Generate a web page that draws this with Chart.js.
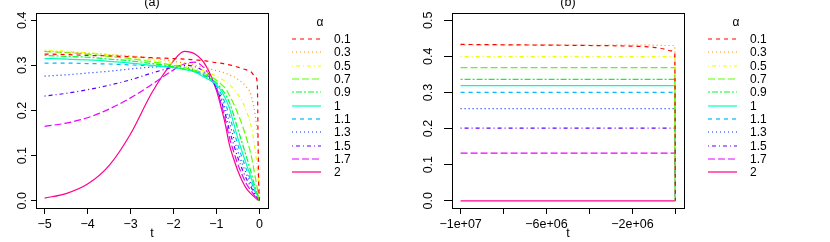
<!DOCTYPE html>
<html>
<head>
<meta charset="utf-8">
<script src="https://cdn.jsdelivr.net/npm/chart.js@4.4.0/dist/chart.umd.min.js"></script>
<style>
  html, body { margin: 0; padding: 0; background: #fff; }
  .wrap { display: flex; width: 830px; height: 242px; }
  canvas { display: block; }
</style>
</head>
<body>
<div class="wrap">
  <canvas id="chartA" width="415" height="242"></canvas>
  <canvas id="chartB" width="415" height="242"></canvas>
</div>
<script>
const alphas = ['0.1', '0.3', '0.5', '0.7', '0.9', '1', '1.1', '1.3', '1.5', '1.7', '2'];

// panel (a): t from -5 to 0
const tA = [-5, -4.5, -4, -3.5, -3, -2.5, -2, -1.75, -1.5, -1.25, -1, -0.9, -0.8, -0.7, -0.6, -0.5, -0.4, -0.3, -0.2, -0.1, -0.05, -0.02, 0];
const fA_01 = [0.325, 0.324, 0.322, 0.321, 0.319, 0.317, 0.315, 0.314, 0.312, 0.310, 0.306, 0.305, 0.303, 0.301, 0.299, 0.296, 0.293, 0.290, 0.286, 0.276, 0.262, 0.05, 0];
const fA_03 = [0.331, 0.329, 0.327, 0.324, 0.321, 0.316, 0.309, 0.305, 0.300, 0.295, 0.288, 0.286, 0.283, 0.279, 0.275, 0.269, 0.262, 0.252, 0.236, 0.19, 0.15, 0.10, 0];
const fA_05 = [0.334, 0.331, 0.328, 0.324, 0.319, 0.312, 0.304, 0.299, 0.293, 0.286, 0.276, 0.271, 0.265, 0.257, 0.248, 0.235, 0.22, 0.198, 0.168, 0.115, 0.07, 0.035, 0];
const fA_07 = [0.331, 0.328, 0.325, 0.320, 0.315, 0.308, 0.300, 0.295, 0.289, 0.281, 0.267, 0.259, 0.25, 0.234, 0.215, 0.193, 0.168, 0.138, 0.104, 0.054, 0.028, 0.012, 0];
const fA_09 = [0.322, 0.320, 0.318, 0.314, 0.310, 0.304, 0.297, 0.292, 0.287, 0.277, 0.261, 0.25, 0.237, 0.218, 0.19, 0.158, 0.128, 0.097, 0.065, 0.03, 0.016, 0.008, 0];
const fA_1 = [0.315, 0.314, 0.312, 0.309, 0.305, 0.300, 0.295, 0.291, 0.285, 0.272, 0.258, 0.245, 0.228, 0.206, 0.172, 0.138, 0.108, 0.08, 0.053, 0.023, 0.012, 0.007, 0];
const fA_11 = [0.305, 0.305, 0.304, 0.303, 0.301, 0.299, 0.296, 0.292, 0.287, 0.274, 0.254, 0.238, 0.217, 0.19, 0.156, 0.124, 0.095, 0.069, 0.045, 0.02, 0.01, 0.006, 0];
const fA_13 = [0.276, 0.279, 0.283, 0.287, 0.292, 0.296, 0.298, 0.296, 0.290, 0.277, 0.252, 0.231, 0.206, 0.174, 0.14, 0.109, 0.082, 0.059, 0.038, 0.017, 0.008, 0.005, 0];
const fA_15 = [0.232, 0.238, 0.246, 0.256, 0.268, 0.283, 0.296, 0.300, 0.297, 0.283, 0.25, 0.224, 0.194, 0.157, 0.125, 0.095, 0.07, 0.048, 0.031, 0.013, 0.0065, 0.004, 0];
const fA_17 = [0.165, 0.172, 0.184, 0.203, 0.228, 0.258, 0.29, 0.303, 0.307, 0.29, 0.248, 0.217, 0.183, 0.141, 0.109, 0.08, 0.057, 0.037, 0.023, 0.01, 0.005, 0.003, 0];
const fA_2 = [0.006, 0.016, 0.037, 0.078, 0.148, 0.24, 0.31, 0.331, 0.325, 0.30, 0.245, 0.21, 0.172, 0.125, 0.093, 0.066, 0.044, 0.027, 0.016, 0.007, 0.003, 0.001, 0];

// panel (b): t from -1e7 to 0
const tB = [-1e7, -8e6, -6e6, -4e6, -2e6, -1e6, -5e5, -2e5, -3e4, 0];
const fB_01 = [0.433, 0.432, 0.431, 0.430, 0.428, 0.425, 0.420, 0.415, 0.409, 0];
const fB_03 = [0.432, 0.432, 0.432, 0.431, 0.431, 0.431, 0.430, 0.430, 0.429, 0];
const fB_05 = [0.399, 0.399, 0.399, 0.399, 0.399, 0.399, 0.399, 0.399, 0.399, 0];
const fB_07 = [0.369, 0.369, 0.369, 0.369, 0.369, 0.369, 0.369, 0.369, 0.369, 0];
const fB_09 = [0.336, 0.336, 0.336, 0.336, 0.336, 0.336, 0.336, 0.336, 0.336, 0];
const fB_1 = [0.319, 0.319, 0.319, 0.319, 0.319, 0.319, 0.319, 0.319, 0.319, 0];
const fB_11 = [0.300, 0.300, 0.300, 0.300, 0.300, 0.300, 0.300, 0.300, 0.300, 0];
const fB_13 = [0.255, 0.255, 0.255, 0.255, 0.255, 0.255, 0.255, 0.255, 0.255, 0];
const fB_15 = [0.201, 0.201, 0.201, 0.201, 0.201, 0.201, 0.201, 0.201, 0.201, 0];
const fB_17 = [0.132, 0.132, 0.132, 0.132, 0.132, 0.132, 0.132, 0.132, 0.132, 0];
const fB_2 = [0, 0, 0, 0, 0, 0, 0, 0, 0, 0];

const xTicksA = [-5, -4, -3, -2, -1, 0];
const xLabelsA = ['\u22125', '\u22124', '\u22123', '\u22122', '\u22121', '0'];
const yTicksA = [0, 0.1, 0.2, 0.3, 0.4];
const xTicksB = [-1e7, -8e6, -6e6, -4e6, -2e6, 0];
const xLabelsB = ['\u22121e+07', '', '\u22126e+06', '', '\u22122e+06', ''];
const yTicksB = [0, 0.1, 0.2, 0.3, 0.4, 0.5];

// R rainbow(11) and lty 2,3,4,5,6,1,2,3,4,5,1
const colors = ['#FF0000', '#FF8B00', '#E8FF00', '#5DFF00', '#00FF2E', '#00FFB9', '#00B9FF', '#002EFF', '#5D00FF', '#E800FF', '#FF008B'];
const dashes = [[4, 4], [1, 3], [1, 3, 4, 3], [7, 3], [2, 2, 6, 2], [], [4, 4], [1, 3], [1, 3, 4, 3], [7, 3], []];

const FONT = '"Liberation Sans", Arial, Helvetica, sans-serif';
Chart.defaults.font.family = FONT;
Chart.defaults.color = '#000';

const rFrame = {
  id: 'rFrame',
  afterDraw(chart, args, opts) {
    const { ctx, chartArea: a, scales } = chart;
    ctx.save();
    // box round the plot
    ctx.strokeStyle = '#000';
    ctx.lineWidth = 1;
    ctx.strokeRect(Math.round(a.left) + 0.5, Math.round(a.top) + 0.5,
      Math.round(a.right - a.left), Math.round(a.bottom - a.top));

    // y tick labels, rotated like R
    ctx.fillStyle = '#000';
    ctx.font = `12.5px ${FONT}`;
    ctx.textAlign = 'center';
    ctx.textBaseline = 'middle';
    scales.y.ticks.forEach(tk => {
      const y = scales.y.getPixelForValue(tk.value);
      ctx.save();
      ctx.translate(a.left - opts.yLabelGap, y);
      ctx.rotate(-Math.PI / 2);
      ctx.fillText(tk.value.toFixed(1), 0, 0);
      ctx.restore();
    });

    // panel title
    ctx.textBaseline = 'alphabetic';
    ctx.fillText(opts.title, (a.left + a.right) / 2, 6);

    // legend
    const lx = a.right + 24;
    ctx.font = `12px ${FONT}`;
    ctx.fillText('\u03b1', lx + 28, 26);
    ctx.textAlign = 'left';
    ctx.textBaseline = 'middle';
    chart.data.datasets.forEach((ds, i) => {
      const y = Math.round(39 + i * 13.33);
      ctx.strokeStyle = ds.borderColor;
      ctx.lineWidth = 1.2;
      ctx.setLineDash(ds.borderDash);
      ctx.beginPath();
      ctx.moveTo(lx, y);
      ctx.lineTo(lx + 29, y);
      ctx.stroke();
      ctx.setLineDash([]);
      ctx.fillStyle = '#000';
      ctx.fillText(ds.label, lx + 42, y + 0.5);
    });
    ctx.restore();
  }
};

function makeChart(id, xs, series, cfg) {
  const datasets = series.map((vals, i) => ({
    label: alphas[i],
    data: xs.map((x, j) => ({ x: x, y: vals[j] })),
    borderColor: colors[i],
    borderDash: dashes[i],
    borderWidth: 1.2,
    pointRadius: 0,
    cubicInterpolationMode: 'monotone',
    fill: false
  }));

  return new Chart(document.getElementById(id), {
    type: 'line',
    data: { datasets },
    plugins: [rFrame],
    options: {
      responsive: false,
      animation: false,
      devicePixelRatio: 1,
      layout: { padding: { top: 13, right: cfg.padRight, bottom: 0, left: 0 } },
      plugins: {
        legend: { display: false },
        tooltip: { enabled: false },
        rFrame: { title: cfg.title, yLabelGap: cfg.yLabelGap }
      },
      scales: {
        x: {
          type: 'linear',
          min: cfg.xMin,
          max: cfg.xMax,
          afterBuildTicks: s => { s.ticks = cfg.xTicks.map(v => ({ value: v })); },
          afterFit: s => { s.height = 34; },
          ticks: {
            autoSkip: false,
            maxRotation: 0,
            padding: 3,
            color: '#000',
            font: { size: 12.5 },
            callback: (v, i) => cfg.xLabels[i]
          },
          grid: { drawOnChartArea: false, drawTicks: true, tickLength: 6, color: '#000' },
          border: { display: false },
          title: { display: true, text: 't', color: '#000', font: { size: 12.5 }, padding: { top: 0, bottom: 1 } }
        },
        y: {
          type: 'linear',
          min: cfg.yMin,
          max: cfg.yMax,
          afterBuildTicks: s => { s.ticks = cfg.yTicks.map(v => ({ value: v })); },
          afterFit: s => { s.width = cfg.yWidth; },
          ticks: { display: false },
          grid: { drawOnChartArea: false, drawTicks: true, tickLength: cfg.yTick, color: '#000' },
          border: { display: false }
        }
      }
    }
  });
}

makeChart('chartA', tA,
  [fA_01, fA_03, fA_05, fA_07, fA_09, fA_1, fA_11, fA_13, fA_15, fA_17, fA_2], {
    title: '(a)', padRight: 147, yWidth: 36, yTick: 5, yLabelGap: 13.5,
    xMin: -5.2, xMax: 0.2, yMin: -0.016, yMax: 0.416,
    xTicks: xTicksA, xLabels: xLabelsA, yTicks: yTicksA
  });

makeChart('chartB', tB,
  [fB_01, fB_03, fB_05, fB_07, fB_09, fB_1, fB_11, fB_13, fB_15, fB_17, fB_2], {
    title: '(b)', padRight: 146, yWidth: 37, yTick: 8, yLabelGap: 23,
    xMin: -1.04e7, xMax: 4e5, yMin: -0.02, yMax: 0.52,
    xTicks: xTicksB, xLabels: xLabelsB, yTicks: yTicksB
  });
</script>
</body>
</html>
